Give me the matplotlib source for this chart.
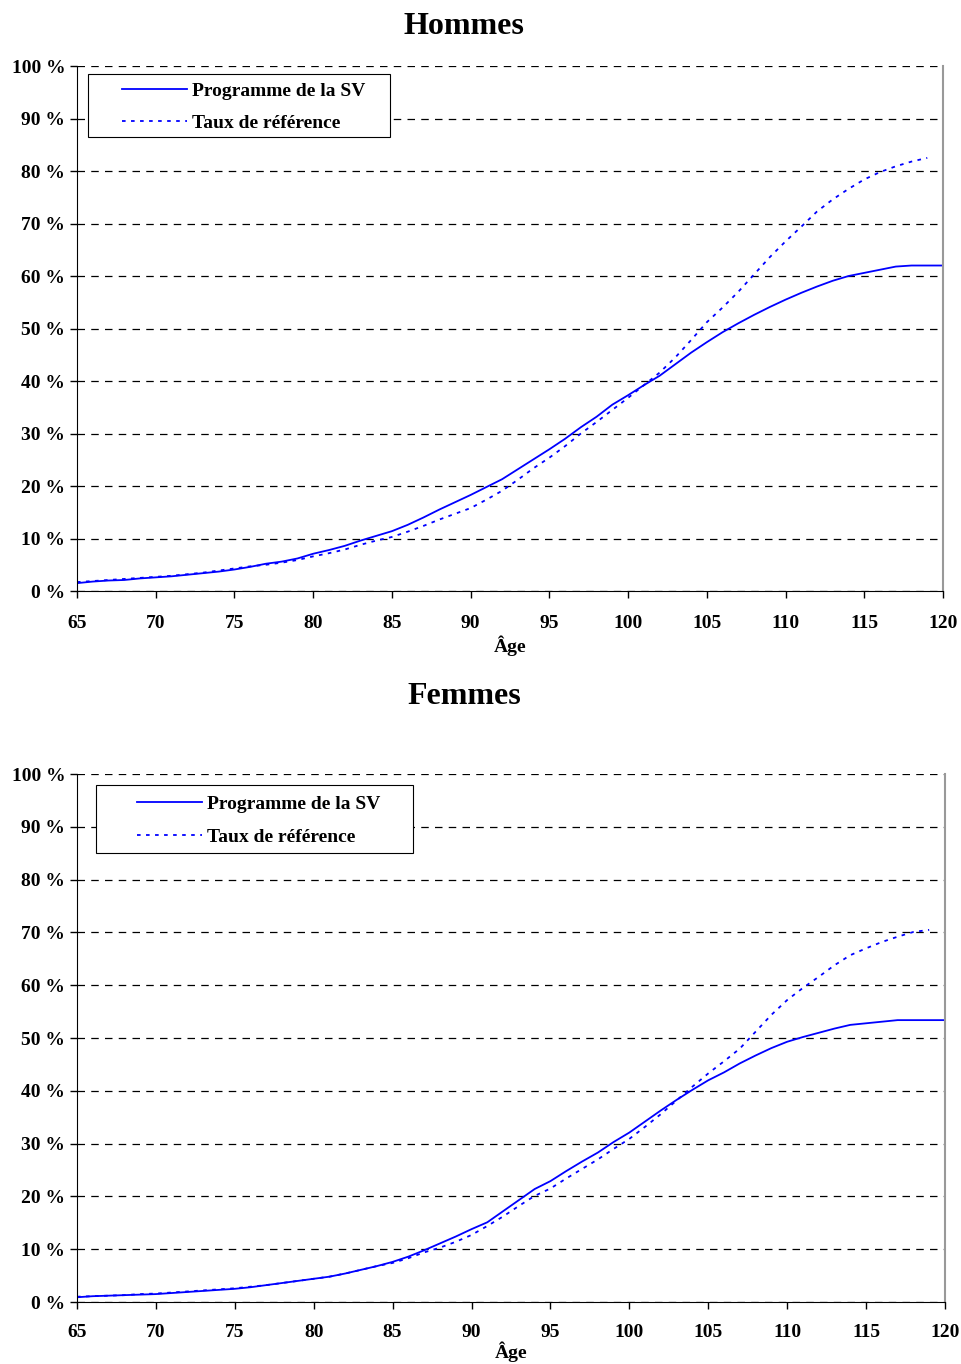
import matplotlib
matplotlib.use("Agg")
import matplotlib.pyplot as plt
from matplotlib.patches import Rectangle
from matplotlib.ticker import FuncFormatter

plt.rcParams['font.family'] = ['Liberation Serif', 'DejaVu Serif']
plt.rcParams['font.weight'] = 'bold'

ages = list(range(65, 121))
ages_ref = list(range(65, 120))

# Hommes
hommes_sv = [1.5, 1.8, 2.0, 2.1, 2.4, 2.6, 2.8, 3.1, 3.4, 3.7,
             4.1, 4.6, 5.2, 5.6, 6.2, 7.1, 7.8, 8.6, 9.6, 10.5,
             11.4, 12.6, 14.0, 15.5, 16.9, 18.3, 19.8, 21.3, 23.2, 25.1,
             27.0, 29.0, 31.2, 33.2, 35.5, 37.3, 39.2, 41.0, 43.2, 45.4,
             47.4, 49.3, 51.0, 52.6, 54.1, 55.5, 56.8, 58.0, 59.1, 60.0,
             60.6, 61.2, 61.8, 62.0, 62.0, 62.0]
hommes_ref = [1.7, 1.9, 2.1, 2.3, 2.5, 2.7, 2.9, 3.2, 3.5, 3.9,
              4.3, 4.7, 5.0, 5.4, 5.9, 6.6, 7.2, 7.9, 8.8, 9.6,
              10.3, 11.3, 12.4, 13.6, 14.7, 15.8, 17.4, 19.1, 21.2, 23.4,
              25.4, 27.6, 30.0, 32.2, 34.5, 36.8, 39.2, 41.6, 44.5, 47.8,
              51.2, 54.0, 57.0, 60.3, 63.6, 66.6, 69.4, 72.3, 74.6, 76.6,
              78.4, 79.8, 80.9, 81.8, 82.5]

# Femmes
femmes_sv = [0.9, 1.1, 1.2, 1.3, 1.4, 1.5, 1.7, 1.9, 2.1, 2.3,
             2.5, 2.8, 3.2, 3.6, 4.0, 4.4, 4.8, 5.4, 6.1, 6.8,
             7.6, 8.6, 9.8, 11.1, 12.4, 13.8, 15.1, 17.2, 19.3, 21.4,
             22.9, 24.8, 26.6, 28.3, 30.3, 32.1, 34.2, 36.3, 38.3, 40.2,
             42.0, 43.5, 45.2, 46.7, 48.1, 49.3, 50.2, 51.0, 51.8, 52.5,
             52.8, 53.1, 53.4, 53.4, 53.4, 53.4]
femmes_ref = [1.0, 1.1, 1.2, 1.3, 1.5, 1.6, 1.8, 2.0, 2.2, 2.4,
              2.6, 2.9, 3.2, 3.6, 4.0, 4.4, 4.8, 5.4, 6.1, 6.8,
              7.4, 8.3, 9.4, 10.3, 11.4, 12.7, 14.4, 16.2, 18.2, 20.1,
              21.5, 23.4, 25.2, 27.0, 29.0, 30.9, 33.2, 35.6, 38.2, 40.8,
              43.3, 45.6, 48.0, 51.2, 54.4, 57.2, 59.5, 61.6, 63.8, 65.7,
              67.0, 68.2, 69.2, 70.1, 70.5]

lab_sv = "Programme de la SV"
lab_ref = "Taux de référence"


def draw_panel(ax, sv, ref, box, leg_anchor, spacing, xpad=12, lpad=3):
    ax.plot(ages, sv, color='#0000FF', lw=1.3, label=lab_sv)
    ax.plot(ages_ref, ref, color='#0000FF', lw=1.3, linestyle=(0, (2, 3)), label=lab_ref)
    ax.set_xlim(65, 120)
    ax.set_ylim(0, 100)
    ax.set_xticks(range(65, 121, 5))
    ax.set_yticks(range(0, 101, 10))
    ax.yaxis.set_major_formatter(FuncFormatter(lambda v, p: "%d %%" % v))
    ax.tick_params(labelsize=14, length=5, width=1, direction='out')
    ax.tick_params(axis='x', pad=xpad)
    ax.grid(axis='y', color='black', linestyle=(0, (6, 5)), lw=0.9)
    ax.set_axisbelow(True)
    ax.spines['top'].set_visible(False)
    ax.spines['right'].set_color('#999999')
    ax.spines['right'].set_linewidth(1.5)
    ax.set_xlabel("Âge", fontsize=14, fontweight='bold', labelpad=lpad)
    # legend box
    x0, y0, x1, y1 = box
    ax.add_patch(Rectangle((x0, y0), x1 - x0, y1 - y0, transform=ax.transAxes,
                           facecolor='white', edgecolor='black', lw=0.8,
                           zorder=4, clip_on=False))
    leg = ax.legend(loc='upper left', bbox_to_anchor=leg_anchor, borderaxespad=0,
                    borderpad=0, frameon=False, prop={'size': 14, 'weight': 'bold'},
                    handlelength=3.35, handletextpad=0.26, labelspacing=spacing)
    leg.set_zorder(5)
    for t in ax.get_xticklabels() + ax.get_yticklabels():
        t.set_fontweight('bold')


fig = plt.figure(figsize=(9.61, 13.64), dpi=100)
ax1 = fig.add_axes([0.0801, 0.5667, 0.9012, 0.3849])
ax2 = fig.add_axes([0.0801, 0.04545, 0.9032, 0.3870])

draw_panel(ax1, hommes_sv, hommes_ref, (0.0127, 0.8648, 0.3614, 0.9848),
           (0.0520, 0.9686), 0.73)
draw_panel(ax2, femmes_sv, femmes_ref, (0.0219, 0.8504, 0.3871, 0.9792),
           (0.0691, 0.9601), 0.81, xpad=11, lpad=0)

fig.text(464 / 961, 1 - 34 / 1364, "Hommes", ha='center', va='baseline',
         fontsize=23, fontweight='bold')
fig.text(464 / 961, 1 - 704 / 1364, "Femmes", ha='center', va='baseline',
         fontsize=23, fontweight='bold')

fig.savefig("out.png", dpi=100)
